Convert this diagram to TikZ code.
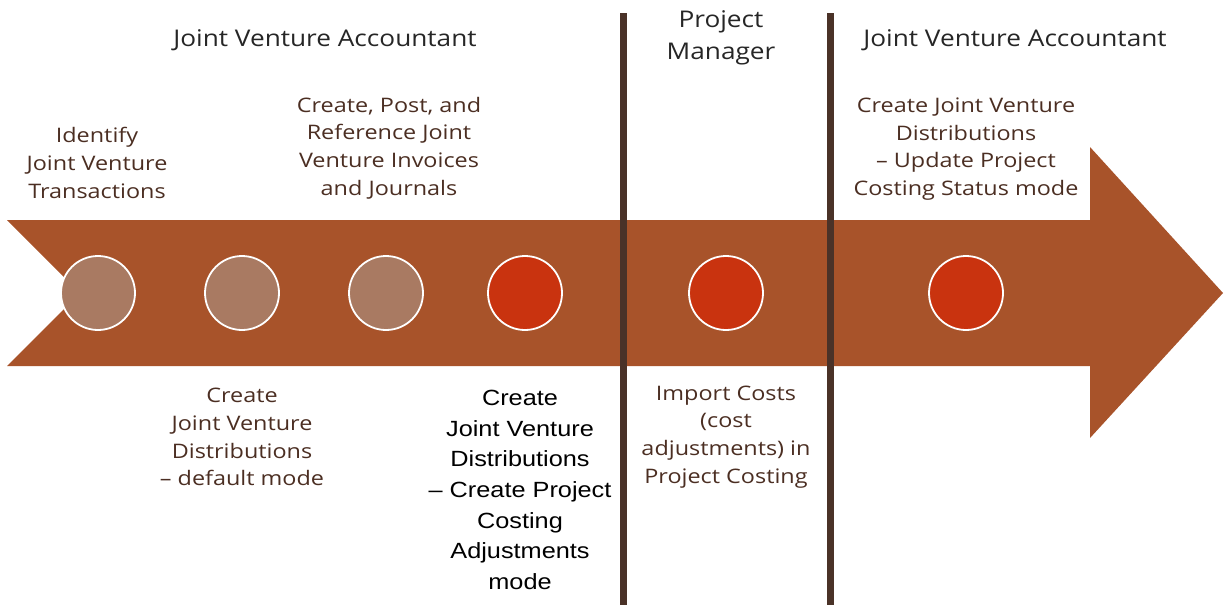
\documentclass[tikz,border=0pt]{standalone}
\usepackage{fontspec}
\newfontfamily\labfont{Open Sans}
\newfontfamily\arfont{Liberation Sans}
\definecolor{arrowbrown}{HTML}{A8532A}
\definecolor{tancirc}{HTML}{A97A62}
\definecolor{redcirc}{HTML}{C9330F}
\definecolor{divider}{HTML}{4A3228}
\definecolor{labtext}{HTML}{4B2E22}
\definecolor{headtext}{HTML}{262626}
\begin{document}
\begin{tikzpicture}[x=1pt,y=-1pt,
  stepdot/.style={circle,draw=white,line width=1.8pt,minimum size=74pt,inner sep=0pt},
  donedot/.style={stepdot,fill=tancirc},
  activedot/.style={stepdot,fill=redcirc},
  header/.style={text=headtext,align=center,xscale=1.14,font=\labfont\fontsize{23}{32}\selectfont},
  steplabel/.style={text=labtext,align=center,xscale=1.17,font=\labfont\fontsize{20}{27.7}\selectfont},
  blacklabel/.style={text=black,align=center,xscale=1.15,font=\arfont\fontsize{22}{30.7}\selectfont},
  divline/.style={draw=divider,line width=7pt}]
\useasboundingbox (0,0) rectangle (1225,605);
% big arrow
\fill[arrowbrown] (7,220) -- (1090,220) -- (1090,147) -- (1223,293) -- (1090,438)
  -- (1090,366) -- (7,366) -- (80,293) -- cycle;
% dividers
\coordinate (d1t) at (623,13); \coordinate (d1b) at (623,605);
\coordinate (d2t) at (830,13); \coordinate (d2b) at (830,605);
\draw[divline] (d1t) -- (d1b);
\draw[divline] (d2t) -- (d2b);
% circles
\node[donedot] (c1) at (98,293) {};
\node[donedot] (c2) at (242,293) {};
\node[donedot] (c3) at (386,293) {};
\node[activedot] (c4) at (525,293) {};
\node[activedot] (c5) at (726,293) {};
\node[activedot] (c6) at (966,293) {};
% headers
\node[header] (h1) at (325,40) {Joint Venture Accountant};
\node[header] (h2) at (721,38) {Project\\Manager};
\node[header] (h3) at (1015,40) {Joint Venture Accountant};
% labels
\node[steplabel] (l1) at (97,163) {Identify\\Joint Venture\\Transactions};
\node[steplabel] (l3) at (389,148) {Create, Post, and\\Reference Joint\\Venture Invoices\\and Journals};
\node[steplabel] (l6) at (966,149) {Create Joint Venture\\Distributions\\– Update Project\\Costing Status mode};
\node[steplabel] (l2) at (242,437) {Create\\Joint Venture\\Distributions\\– default mode};
\node[steplabel] (l5) at (726,437) {Import Costs\\(cost\\adjustments) in\\Project Costing};
\node[blacklabel] (l4) at (520,490) {Create\\Joint Venture\\Distributions\\– Create Project\\Costing\\Adjustments\\mode};
\end{tikzpicture}
\end{document}
